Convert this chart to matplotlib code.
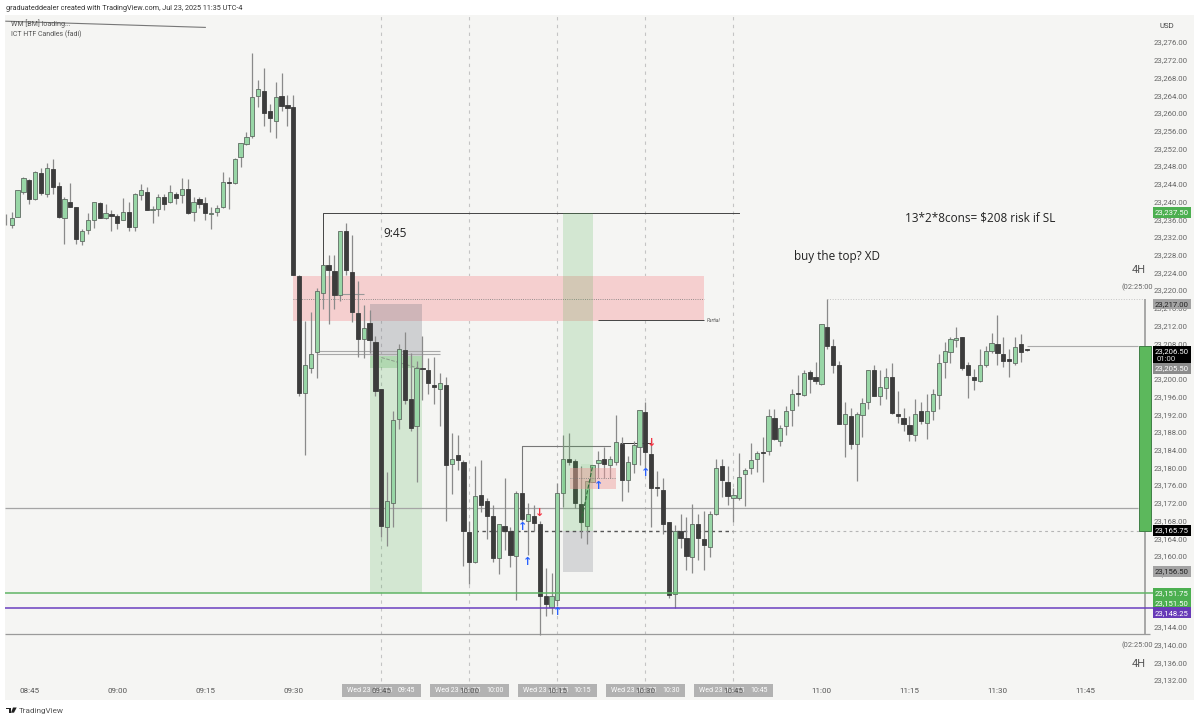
import matplotlib
matplotlib.use('Agg')
import matplotlib.pyplot as plt
from matplotlib.patches import Rectangle, Polygon

plt.rcParams['font.family'] = ['Roboto', 'DejaVu Sans']

base_price = 23000

# 1 minute bars, first one is 08:41. ten bars per line
directions = (
    "BGGGBGBGBB" "GBBGGGBGBB" "GBGGBGGBGB" "GBGBBGGGBG" "GGGGBBGBBB" "BGGGGBBGBB"
    "BGBBBGGGBB" "GBBBGBGBBB" "GBBBGBBGBG" "BBBGGGBBBG" "GGBGGBGGGB" "BBBBGBBGBB"
    "GGBBGGGGGB" "GBGGGBGBBG" "BBBGBGGGBG" "GBBBBGBGGG" "GGGBBBGGGB" "BBGBB"
)
highs = [
    237.25, 237.75, 242.5, 245.5, 245, 247, 247.5, 248.75, 249.5, 244.5,
    241, 244.25, 238.75, 233.75, 237.5, 240, 240, 239.5, 238, 237.25,
    240.75, 240, 242, 244, 243.25, 239, 241.75, 241.75, 243.75, 242.25,
    245.25, 245, 241, 241, 241, 238.75, 239.25, 246.75, 245.5, 249.75,
    253.25, 255.75, 273.5, 267.5, 270.25, 262, 267, 269, 264, 264,
    223.5, 213, 215, 220.5, 225.75, 228, 228, 233.25, 235.25, 232.5,
    222, 216.75, 215.5, 209.75, 197.75, 179, 192.75, 207.75, 210.5, 205.75,
    204, 209.75, 204.75, 205, 201.25, 200.5, 187.75, 187.25, 181.75, 168,
    180.25, 181.75, 173, 171.5, 167.25, 177.5, 166.5, 174.75, 174.25, 172,
    171.5, 168, 157.25, 156.25, 176.5, 187.25, 187.75, 182, 180.25, 177,
    180.5, 183.75, 184.5, 182.5, 191.75, 186.75, 182.5, 186, 193, 194.75,
    186.25, 179.25, 177.5, 167.75, 167, 169.5, 168.75, 171.75, 169.5, 170.25,
    170.25, 182, 182, 180.25, 175.25, 183.25, 179.75, 185.5, 183.75, 186.75,
    193.25, 193.25, 189.5, 193.75, 197.75, 200.75, 202, 202, 203.75, 212.25,
    218, 209, 204, 194.75, 193.5, 192.5, 195.75, 202, 203, 202,
    202.5, 203.5, 197.25, 193.5, 191.5, 195.5, 194.75, 196.5, 197.75, 205.5,
    208.25, 209.5, 211.75, 209.5, 203.75, 202.25, 206.75, 207.5, 210.25, 214.5,
    209.5, 206.75, 209.5, 210, 206.75,
]
tops = [
    236, 236.25, 242.5, 245.25, 244.75, 246.75, 246.5, 247.5, 247.25, 243.5,
    240.5, 240, 238.75, 233.25, 235.75, 240, 239.75, 237.5, 237.25, 236.75,
    237.75, 237.75, 241.75, 242.5, 242.25, 238.25, 241, 241, 242.25, 241.75,
    242.75, 242.75, 240, 240.5, 239.75, 237.5, 238.5, 244.5, 244.5, 249.5,
    253.25, 254.5, 263.5, 265.5, 265, 260.5, 263.5, 263.75, 261.75, 261.25,
    223.25, 203, 205.5, 219.75, 225.75, 225.75, 224.25, 233.25, 233.25, 224,
    214.75, 211.5, 212.5, 208.25, 197.75, 172.5, 190.75, 206.75, 206.5, 195.5,
    202.5, 202.5, 202, 198.5, 199, 198.5, 182, 182.75, 181.25, 165.5,
    173.5, 173.75, 172.5, 169, 167.25, 166.75, 165.75, 174.25, 174.25, 169.5,
    169, 167.25, 151, 151, 174.25, 182, 182, 181.5, 171.75, 177,
    180.5, 181.75, 182, 182, 185.75, 185.25, 181.25, 185, 193, 192.5,
    183, 175.5, 175, 167.75, 165.75, 165.75, 164, 167.25, 167.25, 163.75,
    169.5, 179.75, 180.25, 176.75, 173.75, 177.75, 179.5, 181.75, 183.25, 183.5,
    191.5, 191.25, 189, 192.75, 196.5, 196.75, 201.25, 201.5, 200.5, 212.25,
    211.75, 207.5, 203, 192, 191.5, 192, 194.5, 202, 202, 198.25,
    200.5, 200.5, 192, 191.25, 189.5, 192, 192.75, 192.75, 196.5, 203.5,
    206.25, 209, 209.25, 209.5, 203, 200.5, 203, 206.25, 208, 207.75,
    205.5, 204.5, 207.25, 207.75, 206.5,
]
bots = [
    236, 234.75, 236.5, 242.25, 240.5, 240.5, 242, 241.75, 243.25, 236.5,
    236.25, 238.75, 231.5, 231, 233.5, 235.75, 236.25, 236.25, 236.75, 235.25,
    235.75, 234.25, 234.25, 241.5, 238, 238, 238.25, 239.5, 240, 240.75,
    241.5, 237.5, 237.75, 239.5, 237.5, 237.25, 237.75, 238.75, 244.25, 244.25,
    250, 253, 254.75, 263.75, 260, 258.75, 258.25, 261.5, 261, 223.5,
    196.75, 196.75, 202.5, 206, 219.25, 224.5, 219, 219, 224.5, 215,
    209, 209, 208.75, 197.25, 166.75, 166.5, 172, 191, 195.25, 189,
    189.25, 202.25, 199, 198.25, 197.75, 180.5, 180.75, 181.75, 165.75, 158.75,
    158.75, 171.5, 169, 159.5, 159.5, 165.75, 160.25, 160, 168.25, 168,
    167.5, 151, 149.25, 148.5, 150, 174.25, 181.25, 172, 167.75, 166.75,
    176.75, 181, 180.75, 180.5, 181.25, 177.25, 177.25, 180.75, 184.5, 183.5,
    175.25, 175.25, 167.25, 151.25, 151.5, 164, 160, 159.75, 164, 162.5,
    162, 169.5, 177.25, 173.5, 173, 173, 178.5, 179.75, 182, 183.25,
    183.75, 186.5, 186, 189.25, 193, 196.5, 196.25, 200, 199.5, 198.75,
    207.5, 203, 189.75, 189.75, 185.25, 185.25, 191.75, 194.75, 196, 196,
    198, 192.25, 191.5, 189.75, 187.5, 187.25, 190.5, 190, 192.75, 196.25,
    203.75, 206, 208.75, 202.5, 200.75, 199.75, 199.5, 203, 206.25, 205.75,
    204, 204, 203.5, 206, 206.5,
]
lows = [
    234.75, 234, 236.5, 241.75, 239.5, 240.25, 241.5, 241, 241.75, 236.25,
    230.5, 238.75, 230.5, 230.25, 232.75, 234, 236.25, 236, 233.25, 233.75,
    235.75, 233.25, 233.25, 240.25, 238, 235.25, 236.75, 238, 239.75, 239.5,
    239.75, 237.25, 235.5, 238.5, 235.75, 233.75, 236.75, 238.5, 238.25, 244,
    247.75, 252.75, 254.25, 261.25, 257, 255.75, 254.25, 260.5, 257, 223.5,
    196, 182.75, 201.25, 200.25, 215.75, 212.25, 215.75, 217.5, 223.5, 212.75,
    205, 204.75, 205.75, 196, 164.25, 162.25, 166.5, 188.75, 194.25, 188.25,
    176.75, 195.25, 196.5, 194.25, 189.25, 168, 174, 179.5, 157.75, 153.75,
    158.5, 170, 163.75, 158.75, 156, 161.25, 157.5, 150, 168, 160.25,
    165.75, 142.25, 146.5, 147, 148.75, 171, 180.5, 170.75, 164, 162.75,
    176.75, 177.5, 177.5, 177.5, 180.5, 172.5, 174.5, 178.75, 180.5, 179.75,
    166.5, 173.5, 165, 150.5, 148.25, 161.75, 156.75, 156.25, 159, 156.75,
    159.75, 169.25, 173.25, 171.5, 167.75, 172.75, 171.25, 178.5, 179, 176.75,
    182.75, 186.25, 184.75, 187.25, 189.25, 193.75, 196, 196.75, 198.75, 198.5,
    206.75, 201.25, 189.75, 182.25, 184.25, 177, 186.75, 193.25, 196, 194,
    195.5, 192, 190, 188.25, 186, 186, 189.75, 186.5, 190.75, 193.25,
    200.25, 203.5, 207.25, 202, 195.75, 197.5, 199.25, 202.75, 205.75, 203,
    202.75, 200.5, 203, 203.75, 206.25,
]

time_ticks = [0, 15, 30, 45, 60, 75, 90, 105, 120, 135, 150, 165, 180]
time_labels = ['08:45', '09:00', '09:15', '09:30', '09:45', '10:00', '10:15', '10:30', '10:45', '11:00', '11:15', '11:30', '11:45']
session_ticks = [60, 75, 90, 105, 120]
session_labels = ['09:45', '10:00', '10:15', '10:30', '10:45']
price_ticks = list(range(23132, 23277, 4))

arrows_up_x = [84, 85, 90, 97, 105]
arrows_up_y = [23166.5, 23158.7, 23147.4, 23175.8, 23178.7]
arrows_down_x = [87, 106]
arrows_down_y = [23169.7, 23185.6]

tag_texts = ['23,237.50', '23,217.00', '23,205.50', '23,165.75', '23,156.50', '23,151.75', '23,151.50', '23,148.25']
tag_prices = [23237.5, 23216.9, 23202.35, 23165.75, 23156.5, 23151.7, 23149.4, 23147.2]
tag_colors = ['#4caf50', '#a3a3a3', '#8c8c8c', '#000000', '#a3a3a3', '#4caf50', '#4caf50', '#673ab7']
tag_text_colors = ['white', '#222222', 'white', 'white', '#222222', 'white', 'white', 'white']

bg = '#f5f5f3'
fig = plt.figure(figsize=(12, 7.21), dpi=100, facecolor='white')
ax = fig.add_axes([5 / 1200, 1 - 700 / 721, 1189 / 1200, 685 / 721], facecolor=bg)
ax.set_xlim(-4.14, 198.5)
ax.set_ylim(23127.5, 23282.1)
for s in ax.spines.values():
    s.set_visible(False)

ax.set_xticks(time_ticks)
ax.set_xticklabels(time_labels)
ax.tick_params(axis='x', length=0, pad=-8.7, labelsize=5.8, labelcolor='#555555')
ax.yaxis.tick_right()
ax.set_yticks(price_ticks)
ax.set_yticklabels(['{:,.2f}'.format(p) for p in price_ticks])
ax.tick_params(axis='y', length=0, pad=-29, labelsize=5.6, labelcolor='#666666')

# session lines
ax.vlines(session_ticks, 23131.8, 23282, colors='#c4c4c4', linewidth=0.8, linestyles=(0, (3, 4)), zorder=1)

# crosshair date boxes, the axis labels sit on top of them
for x, label in zip(session_ticks, session_labels):
    ax.add_patch(Rectangle((x - 6.75, 23128.1), 13.5, 3.1, fc='#b2b2b2', ec='none', zorder=1.01))
    ax.text(x - 5.8, 23129.65, "Wed 23 Jul '25", fontsize=5, color='white', ha='left', va='center', zorder=1.02)
    ax.text(x + 5.8, 23129.65, label, fontsize=5, color='white', ha='right', va='center', zorder=1.02)

# boxes under the candles
ax.add_patch(Rectangle((45, 23213.1), 70, 10.1, fc='#f5cfcf', ec='none', zorder=1.6))
ax.hlines(23218.1, 45, 115, colors='#777777', linewidth=0.6, linestyles=':', zorder=1.62)
ax.add_patch(Rectangle((58, 23205.2), 9, 11.7, fc='#787b86', alpha=0.3, ec='none', zorder=1.63))
ax.add_patch(Rectangle((58, 23151.75), 9, 53.45, fc='#4caf50', alpha=0.2, ec='none', zorder=1.63))
ax.add_patch(Rectangle((58, 23202.5), 9, 2.7, fc='#4caf50', alpha=0.25, ec='none', zorder=1.63))
ax.add_patch(Rectangle((91, 23156.5), 5, 9.2, fc='#787b86', alpha=0.25, ec='none', zorder=1.63))

# levels
ax.hlines(23170.9, -4.14, 189, colors='#a5a5a5', linewidth=0.9, zorder=1.7)
ax.hlines(23142.3, -4.14, 191, colors='#9a9a9a', linewidth=0.9, zorder=1.7)
ax.hlines(23151.75, -4.14, 192, colors='#5fb565', linewidth=1.1, zorder=4)
ax.hlines(23148.25, -4.14, 192, colors='#6a3fc0', linewidth=1.1, zorder=4)
ax.hlines([23206.25, 23205.65], 49, 70, colors='#a8a8a8', linewidth=0.8, zorder=1.7)
ax.hlines(23219.1, 52.7, 57, colors='#999999', linewidth=0.8, zorder=1.7)
ax.hlines(23218, 136, 190, colors='#c4c4c4', linewidth=0.7, linestyles=':', zorder=1.7)
ax.hlines(23207.4, 170, 189, colors='#aaaaaa', linewidth=0.8, zorder=1.7)
ax.vlines(190.1, 23142.3, 23218, colors='#9a9a9a', linewidth=1.2, zorder=1.7)
ax.hlines(23165.75, 76, 120, colors='#555555', linewidth=1, linestyles=(0, (2.5, 2.5)), zorder=1.7)
ax.hlines(23165.75, 120, 190, colors='#b5b5b5', linewidth=0.8, linestyles=(0, (2.5, 3)), zorder=1.7)
ax.plot([-4, 30], [23280.7, 23279.3], color='#777777', linewidth=0.8, zorder=4)
ax.plot([50, 50, 121], [23225.5, 23237.5, 23237.5], color='#444444', linewidth=0.7, zorder=1.8)
ax.plot([84, 84, 99], [23174, 23184.8, 23184.8], color='#777777', linewidth=0.8, zorder=1.8)
ax.hlines(23185.4, 100.7, 106, colors='#333333', linewidth=0.7, zorder=1.8)
ax.hlines(23213.2, 97, 115, colors='#444444', linewidth=0.7, zorder=1.8)
ax.plot([60, 66.6], [23204.8, 23202.3], color='#8a9a8a', linewidth=0.7, linestyle='--', zorder=1.8)

# candles. the first bar is cut by the left edge, only its wick shows
up_color = '#98d6a6'
for i in range(len(highs)):
    x = i - 4
    is_up = directions[i] == 'G'
    ax.vlines(x, base_price + lows[i], base_price + highs[i], colors='#8a8a8a', linewidth=0.9, zorder=2)
    if i == 0:
        continue
    ax.bar(x, max(tops[i] - bots[i], 0.2), bottom=base_price + bots[i], width=0.72,
           color=up_color if is_up else '#3c3c3c',
           edgecolor='#5f6b62' if is_up else '#3c3c3c', linewidth=0.6, zorder=3)

# boxes on top of the candles
ax.add_patch(Rectangle((91, 23165.7), 5, 71.8, fc='#4caf50', alpha=0.2, ec='none', zorder=3.5))
ax.add_patch(Rectangle((94, 23165.7), 2, 15.1, fc='#4caf50', alpha=0.08, ec='none', zorder=3.5))
ax.add_patch(Rectangle((92.2, 23175.1), 7.8, 4.8, fc='#ef9a9a', alpha=0.45, ec='none', zorder=3.6))
ax.hlines(23177.5, 92.2, 100, colors='#777777', linewidth=0.6, linestyles=':', zorder=3.7)
ax.plot([94, 96], [23167.4, 23180.3], color='#2f6b3a', linewidth=0.8, linestyle='--', zorder=3.8)

for x, y in zip(arrows_up_x, arrows_up_y):
    ax.text(x, y, '\u2191', color='#2962ff', fontsize=8, fontweight='bold', ha='center', va='center',
            family='DejaVu Sans', zorder=5)
for x, y in zip(arrows_down_x, arrows_down_y):
    ax.text(x, y, '\u2193', color='#f23645', fontsize=8, fontweight='bold', ha='center', va='center',
            family='DejaVu Sans', zorder=5)

# annotations
ax.text(60.3, 23232.8, '9:45', fontsize=8.6, color='#222222', family='Open Sans', va='center', zorder=5)
ax.text(149.3, 23236.2, '13*2*8cons= $208 risk if SL', fontsize=8.5, color='#222222', family='Open Sans', va='center', zorder=5)
ax.text(130.4, 23227.6, 'buy the top? XD', fontsize=8.5, color='#222222', family='Open Sans', va='center', zorder=5)
ax.text(115.4, 23213.2, 'Partial', fontsize=3.5, style='italic', color='#555555', va='center', zorder=5)
ax.text(-3.2, 23280.05, 'WM [BM] loading...', fontsize=5.1, color='#555555', va='center', zorder=5)
ax.text(-3.2, 23277.8, 'ICT HTF Candles (fadi)', fontsize=5.05, color='#555555', va='center', zorder=5)
ax.text(189.1, 23224.6, '4H', fontsize=8, color='#555555', ha='center', va='center', zorder=5)
ax.text(189.1, 23135.6, '4H', fontsize=8, color='#555555', ha='center', va='center', zorder=5)
ax.text(191.5, 23220.7, '(02:25:00', fontsize=5.4, color='#666666', ha='right', va='center', zorder=5)
ax.text(191.5, 23139.9, '(02:25:00', fontsize=5.4, color='#666666', ha='right', va='center', zorder=5)
ax.text(192.7, 23279.7, 'USD', fontsize=5.6, color='#444444', va='center', zorder=5)

# position box and price tags
ax.add_patch(Rectangle((189.1, 23165.75), 2, 41.65, fc='#5cb85c', ec='#3f7f45', linewidth=0.7, zorder=4))
for text, price, color, text_color in zip(tag_texts, tag_prices, tag_colors, tag_text_colors):
    ax.add_patch(Rectangle((191.5, price - 1.18), 6.5, 2.36, fc=color, ec='none', zorder=5))
    ax.text(194.75, price, text, fontsize=5.6, color=text_color, ha='center', va='center', zorder=6)
ax.add_patch(Rectangle((191.5, 23203.55), 6.5, 3.85, fc='black', ec='none', zorder=5))
ax.text(194.75, 23206.25, '23,206.50', fontsize=5.6, color='white', ha='center', va='center', zorder=6)
ax.text(192.2, 23204.45, '01:00', fontsize=5.6, color='#dddddd', ha='left', va='center', zorder=6)

fig.text(6 / 1200, 1 - 8 / 721, 'graduateddealer created with TradingView.com, Jul 23, 2025 11:35 UTC-4',
         fontsize=5.2, color='#333333', va='center')

# logo at the bottom
fig.add_artist(Polygon([(6 / 1200, 1 - 707.5 / 721), (10.5 / 1200, 1 - 707.5 / 721), (10.5 / 1200, 1 - 712.7 / 721),
                        (8.5 / 1200, 1 - 712.7 / 721), (8.5 / 1200, 1 - 709.3 / 721), (6 / 1200, 1 - 709.3 / 721)],
                       closed=True, fc='#222222', ec='none', transform=fig.transFigure))
fig.add_artist(Polygon([(13 / 1200, 1 - 707.5 / 721), (16.7 / 1200, 1 - 707.5 / 721), (14 / 1200, 1 - 712.7 / 721),
                        (11 / 1200, 1 - 712.7 / 721)],
                       closed=True, fc='#222222', ec='none', transform=fig.transFigure))
fig.text(19 / 1200, 1 - 710.7 / 721, 'TradingView', fontsize=5.9, color='#555555', va='center')

fig.savefig('out.png', dpi=100, facecolor='white')
